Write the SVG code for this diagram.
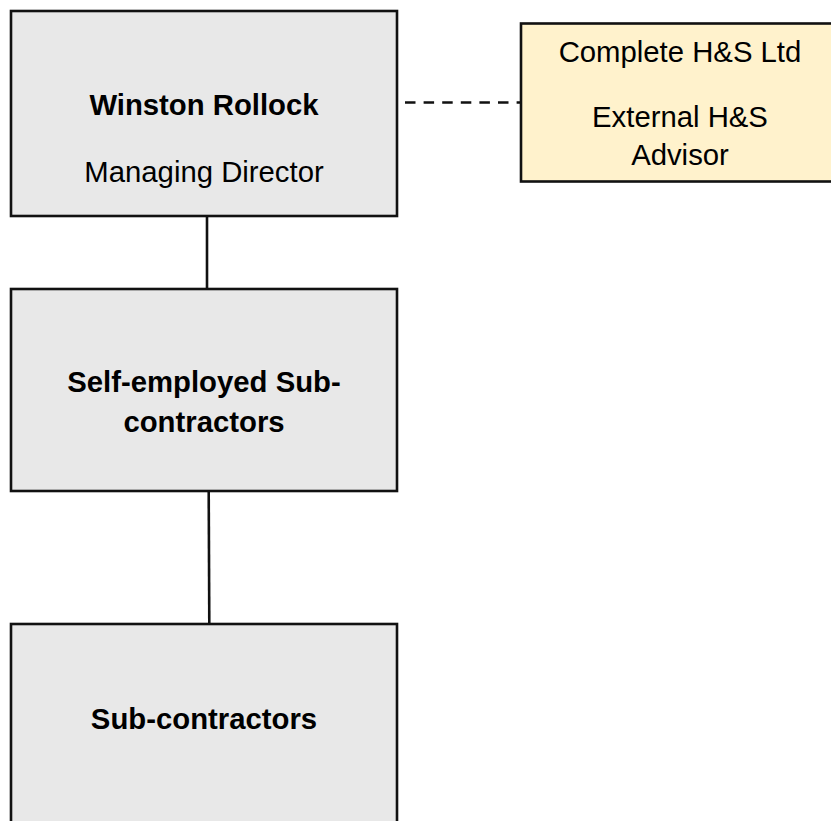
<svg xmlns="http://www.w3.org/2000/svg" width="831" height="821" viewBox="0 0 831 821">
<style>
.box{fill:#e8e8e8;stroke:#111;stroke-width:2.6}
.ext{fill:#fff2cc;stroke:#111;stroke-width:2.6}
.b{font-family:"Liberation Sans",Arial,sans-serif;font-weight:bold;font-size:29.3px;fill:#000;text-anchor:middle}
.r{font-family:"Liberation Sans",Arial,sans-serif;font-size:29.3px;fill:#000;text-anchor:middle}
.line{stroke:#111;stroke-width:2.6;fill:none}
</style>
<rect width="831" height="821" fill="#fff"/>
<g id="connectors">
<line class="line" x1="207" y1="216" x2="207" y2="289"/>
<line class="line" x1="208.7" y1="491" x2="209.3" y2="624"/>
<line class="line" x1="405" y1="102.5" x2="521" y2="102.5" stroke-dasharray="10.5 8.1"/>
</g>
<g id="md">
<rect class="box" x="11" y="11" width="386" height="205"/>
<text class="b" x="204" y="115">Winston Rollock</text>
<text class="r" x="204" y="181.5">Managing Director</text>
</g>
<g id="ext">
<rect class="ext" x="521" y="23.5" width="320" height="158"/>
<text class="r" x="680" y="61.5">Complete H&amp;S Ltd</text>
<text class="r" x="680" y="126.5">External H&amp;S</text>
<text class="r" x="680" y="165">Advisor</text>
</g>
<g id="self">
<rect class="box" x="11" y="289" width="386" height="202"/>
<text class="b" x="204" y="391.5">Self-employed Sub-</text>
<text class="b" x="204" y="431.5">contractors</text>
</g>
<g id="sub">
<rect class="box" x="11" y="624" width="386" height="220"/>
<text class="b" x="204" y="728.5">Sub-contractors</text>
</g>
</svg>
